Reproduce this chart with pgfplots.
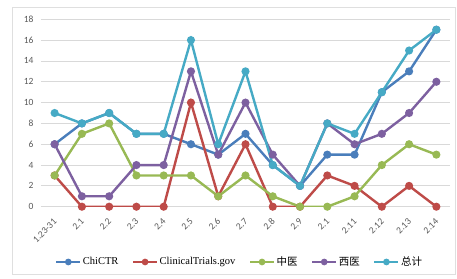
\documentclass[border=0pt]{standalone}
\usepackage{fontspec}
\setmainfont{Carlito}
\newfontfamily\serif{Liberation Serif}
\newfontfamily\cjk{Noto Sans CJK SC}
\usepackage{pgfplots}
\pgfplotsset{compat=1.18}
\definecolor{cchi}{HTML}{4A7EBB}
\definecolor{ccli}{HTML}{BE4B48}
\definecolor{czy}{HTML}{98B954}
\definecolor{cxy}{HTML}{7D60A0}
\definecolor{ctot}{HTML}{46AAC5}
\definecolor{tickgray}{HTML}{595959}
\begin{document}
\begin{tikzpicture}
\begin{axis}[
  name=ax,
  scale only axis,
  width=409pt, height=187.4pt,
  xmin=-0.5, xmax=14.5,
  ymin=0, ymax=18,
  ytick={0,2,...,18},
  xtick={0,...,14},
  xticklabels={1.23-31,2.1,2.2,2.3,2.4,2.5,2.6,2.7,2.8,2.9,2.1,2.11,2.12,2.13,2.14},
  xticklabel style={yshift=-11pt, xshift=3pt, rotate=45, anchor=east, font=\fontsize{9.5}{11}\selectfont, text=tickgray},
  yticklabel style={font=\fontsize{9.5}{11}\selectfont, text=tickgray, xshift=-4pt},
  /pgf/number format/assume math mode=true,
  ymajorgrids,
  grid style={draw=gray!30, line width=0.8pt},
  axis line style={draw=none},
  major tick length=0pt,
  legend columns=-1,
  legend style={draw=none, fill=none, at={(0.485,-0.295)}, anchor=center, font=\fontsize{10.5}{12}\selectfont, inner sep=0pt,
    /tikz/every even column/.append style={column sep=12pt},
    /tikz/every odd column/.append style={column sep=0pt},
    nodes={inner sep=1.5pt}},
  legend image code/.code={\draw[#1, line width=2.2pt, mark size=2.2pt, mark repeat=2, mark phase=2] plot coordinates {(0pt,0pt) (12pt,0pt) (24pt,0pt)};},
  every axis plot/.append style={line width=2.4pt, mark=*, mark size=2.8pt},
]
\addplot[color=cchi, mark options={fill=cchi}] coordinates {(0,6)(1,8)(2,9)(3,7)(4,7)(5,6)(6,5)(7,7)(8,4)(9,2)(10,5)(11,5)(12,11)(13,13)(14,17)};
\addlegendentry{\serif ChiCTR}
\addplot[color=ccli, mark options={fill=ccli}] coordinates {(0,3)(1,0)(2,0)(3,0)(4,0)(5,10)(6,1)(7,6)(8,0)(9,0)(10,3)(11,2)(12,0)(13,2)(14,0)};
\addlegendentry{\serif ClinicalTrials.gov}
\addplot[color=czy, mark options={fill=czy}] coordinates {(0,3)(1,7)(2,8)(3,3)(4,3)(5,3)(6,1)(7,3)(8,1)(9,0)(10,0)(11,1)(12,4)(13,6)(14,5)};
\addlegendentry{\cjk 中医}
\addplot[color=cxy, mark options={fill=cxy}] coordinates {(0,6)(1,1)(2,1)(3,4)(4,4)(5,13)(6,5)(7,10)(8,5)(9,2)(10,8)(11,6)(12,7)(13,9)(14,12)};
\addlegendentry{\cjk 西医}
\addplot[color=ctot, mark options={fill=ctot}] coordinates {(0,9)(1,8)(2,9)(3,7)(4,7)(5,16)(6,6)(7,13)(8,4)(9,2)(10,8)(11,7)(12,11)(13,15)(14,17)};
\addlegendentry{\cjk 总计}
\end{axis}
\draw[gray!25, line width=0.6pt] ([xshift=-28.3pt, yshift=-68pt]ax.south west) rectangle ([xshift=5pt, yshift=12.3pt]ax.north east);
\useasboundingbox ([xshift=-41pt, yshift=-71.3pt]ax.south west) rectangle ([xshift=7pt, yshift=19.3pt]ax.north east);
\end{tikzpicture}
\end{document}
